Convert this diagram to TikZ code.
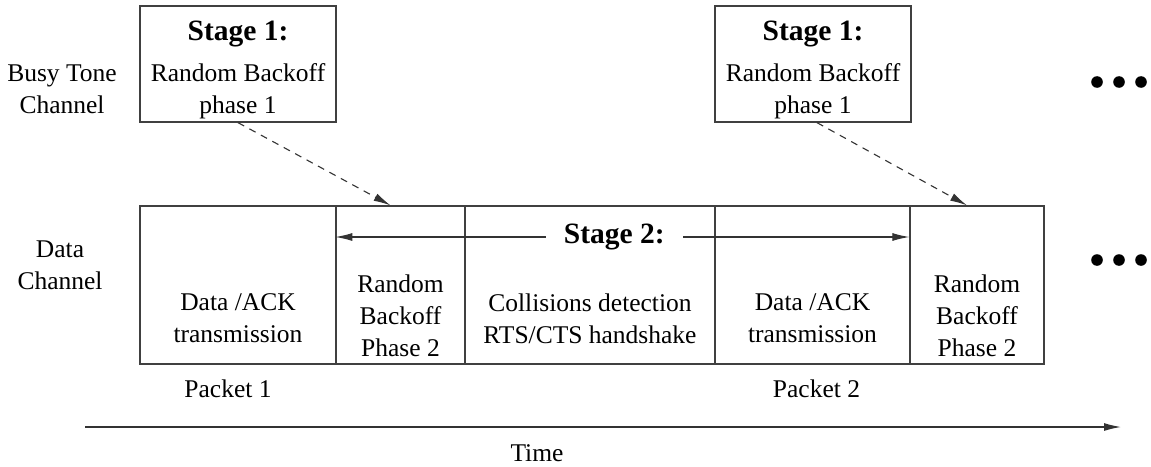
\documentclass[tikz,border=0pt]{standalone}
\usepackage{fontspec}
\setmainfont{Liberation Serif}
\usetikzlibrary{positioning}
\usetikzlibrary{arrows.meta}
\usetikzlibrary{calc}
\newcommand{\stagefont}{\fontsize{29.5}{34}\selectfont\bfseries}
\tikzset{stage box/.style={draw=black!75,line width=1.3pt,minimum width=196pt,minimum height=116pt,inner sep=0pt},
  data box/.style={draw=black!75,line width=1.3pt,minimum height=158pt,inner sep=0pt},
  box text/.style={align=center,inner sep=0pt},
  time line/.style={draw=black!80,line width=1.3pt,-{Latex[length=17pt,width=8pt]}},
  back arrow/.style={draw=black!80,line width=1.1pt,dash pattern=on 7pt off 6pt,-{Latex[length=17pt,width=8pt]}},}

\begin{document}
\begin{tikzpicture}[x=1pt,y=-1pt,font=\fontsize{25.5}{32}\selectfont]
    \useasboundingbox (0,0) rectangle (1151,466);
    % busy tone channel
	\node[stage box] (sa) at (238,64) {};
    \node[stage box] (sb) at (813,64) {};
    \node[box text] at ([yshift=-6pt]sa.center) {{\stagefont Stage 1:}\\[9pt]Random Backoff\\phase 1};
    \node[box text] at ([yshift=-6pt]sb.center) {{\stagefont Stage 1:}\\[9pt]Random Backoff\\phase 1};
    \node[box text] (bt) at (62,89) {Busy Tone\\Channel};

    % data channel
    \node[data box,minimum width=196pt] (pa) at (238,285) {};
    \node[data box,minimum width=129pt] (ba) at (400.5,285) {};
    \node[data box,minimum width=250pt] (cd) at (590,285) {};
    \node[data box,minimum width=195pt] (pb) at (812.5,285) {};
    \node[data box,minimum width=134pt] (bb) at (977,285) {};
    \node[box text] (dc) at (60,265) {Data\\Channel};

    \node[box text] at ([yshift=-33pt]pa.center) {Data /ACK\\transmission};
    \node[box text] at ([yshift=-31pt]ba.center) {Random\\Backoff\\Phase 2};
    \node[box text] at ([yshift=-34pt]cd.center) {Collisions detection\\RTS/CTS handshake};
    \node[box text] at ([yshift=-33pt]pb.center) {Data /ACK\\transmission};
    \node[box text] at ([yshift=-31pt]bb.center) {Random\\Backoff\\Phase 2};

    \node[box text] (ka) at ([xshift=-10pt,yshift=-24pt]pa.south) {Packet 1};
    \node[box text] (kb) at ([xshift=4pt,yshift=-24pt]pb.south) {Packet 2};

    % stage 2
    \coordinate (s2) at (0,237);
    \draw[draw=black!80,line width=1.1pt,{Latex[length=17pt,width=8pt]}-{Latex[length=17pt,width=8pt]}]
      (ba.west |- s2) -- node[fill=white,inner xsep=18pt,inner ysep=2pt,xshift=-8pt] {\stagefont Stage 2:} (bb.west |- s2);

    \path
    (sa.south) edge[back arrow] ([xshift=-10pt]ba.north)
    ([xshift=4pt]sb.south) edge[back arrow] ([xshift=-10pt]bb.north);

    % more cycles
    \foreach \y in {82,260}
      \foreach \x in {1097,1119,1141}
        \fill (\x,\y) circle (5.8pt);

    % time axis
    \coordinate (t0) at (85,427);
    \coordinate (t1) at (1121,427);
    \draw[time line] (t0) -- (t1);
    \node[box text] (tm) at (537,453) {Time};
\end{tikzpicture}
\end{document}
